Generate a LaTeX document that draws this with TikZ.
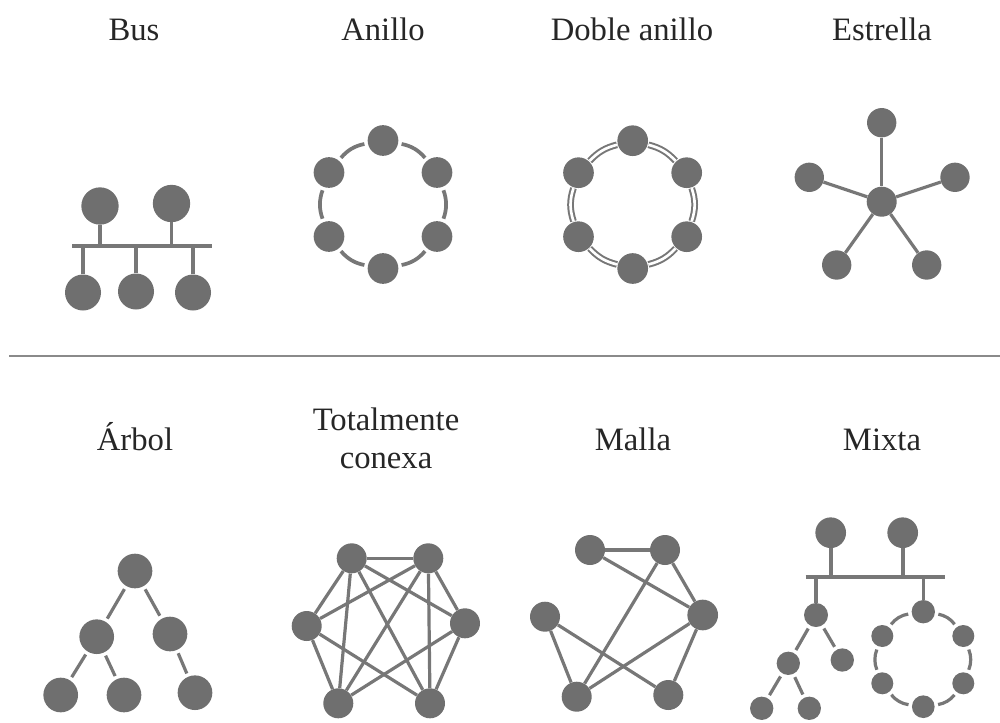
\documentclass[tikz,border=0pt]{standalone}
\usepackage{fontspec}
\setmainfont{Liberation Serif}
\definecolor{nodegray}{HTML}{6F6F6F}
\definecolor{edgegray}{HTML}{777777}
\definecolor{sepgray}{HTML}{8A8A8A}
\begin{document}
\begin{tikzpicture}[x=0.75pt,y=-0.75pt,
  nd/.style={circle,fill=nodegray,draw=none,inner sep=0pt,minimum size=#1},
  title/.style={anchor=base,text=black!85,inner sep=0pt,font=\fontsize{24.5}{29}\selectfont},
  wire/.style={draw=edgegray,line width=2.4pt},
  buswire/.style={draw=edgegray,line width=2.7pt},
  gapwire/.style={wire,shorten >=2.5pt,shorten <=2.5pt},
  ringwire/.style={draw=edgegray,line width=2.8pt,shorten >=2.5pt,shorten <=2.5pt},
  dblwire/.style={draw=edgegray,double=white,line width=1.5pt,double distance=2pt,shorten >=0.5pt,shorten <=0.5pt},
  sep/.style={draw=sepgray,line width=1.6pt}
]
\path[use as bounding box] (0,0) rectangle (1000,722);

% ---------- titles ----------
\node[title] (tBus) at (134,40) {Bus};
\node[title] (tAni) at (383,40) {Anillo};
\node[title] (tDob) at (632,40) {Doble anillo};
\node[title] (tEst) at (882,40) {Estrella};
\node[title] (tArb) at (135,450) {Árbol};
\node[title] (tTc1) at (386,430) {Totalmente};
\node[title] (tTc2) at (386,468) {conexa};
\node[title] (tMal) at (633,450) {Malla};
\node[title] (tMix) at (882,450) {Mixta};

% ---------- separator ----------
\coordinate (sepL) at (9,356);
\coordinate (sepR) at (1000,356);
\draw[sep] (sepL) -- (sepR);

% ---------- Bus ----------
\coordinate (busL) at (72,246);
\coordinate (busR) at (212,246);
\node[nd=28pt] (bt1) at (100,206) {};
\node[nd=28pt] (bt2) at (171.5,203.5) {};
\node[nd=27pt] (bb1) at (83,292.5) {};
\node[nd=27pt] (bb2) at (136,291.5) {};
\node[nd=27pt] (bb3) at (193,292.5) {};
\draw[buswire] (busL) -- (busR);
\draw[buswire] (bt1) -- (bt1 |- busL);
\draw[buswire] (bt2) -- (bt2 |- busL);
\draw[buswire] (bb1) -- (bb1 |- busL);
\draw[buswire] (bb2) -- (bb2 |- busL);
\draw[buswire] (bb3) -- (bb3 |- busL);

% ---------- Anillo ----------
\node[nd=23pt] (a1) at (383,140.5) {};
\node[nd=23pt] (a2) at (437,172.5) {};
\node[nd=23pt] (a3) at (437,236.5) {};
\node[nd=23pt] (a4) at (383,268.5) {};
\node[nd=23pt] (a5) at (329,236.5) {};
\node[nd=23pt] (a6) at (329,172.5) {};
\draw[ringwire] (a1) to[bend left=20] (a2);
\draw[ringwire] (a2) to[bend left=20] (a3);
\draw[ringwire] (a3) to[bend left=20] (a4);
\draw[ringwire] (a4) to[bend left=20] (a5);
\draw[ringwire] (a5) to[bend left=20] (a6);
\draw[ringwire] (a6) to[bend left=20] (a1);

% ---------- Doble anillo ----------
\node[nd=23pt] (d1) at (632.7,140.7) {};
\node[nd=23pt] (d2) at (686.7,172.7) {};
\node[nd=23pt] (d3) at (686.7,236.7) {};
\node[nd=23pt] (d4) at (632.7,268.5) {};
\node[nd=23pt] (d5) at (578.5,236.7) {};
\node[nd=23pt] (d6) at (578.5,172.7) {};
\draw[dblwire] (d1) to[bend left=16] (d2);
\draw[dblwire] (d2) to[bend left=18] (d3);
\draw[dblwire] (d3) to[bend left=16] (d4);
\draw[dblwire] (d4) to[bend left=16] (d5);
\draw[dblwire] (d5) to[bend left=18] (d6);
\draw[dblwire] (d6) to[bend left=16] (d1);

% ---------- Estrella ----------
\node[nd=22.5pt] (s0) at (881.7,201.7) {};
\node[nd=22pt] (s1) at (881.7,122.7) {};
\node[nd=22pt] (s2) at (809.3,177.3) {};
\node[nd=22pt] (s3) at (955,177.3) {};
\node[nd=22pt] (s4) at (836.7,265) {};
\node[nd=22pt] (s5) at (926.7,265) {};
\draw[wire] (s0) -- (s1);
\draw[wire] (s0) -- (s2);
\draw[wire] (s0) -- (s3);
\draw[wire] (s0) -- (s4);
\draw[wire] (s0) -- (s5);

% ---------- Arbol ----------
\node[nd=26pt] (r0) at (135,571) {};
\node[nd=26pt] (r1) at (96.7,636.7) {};
\node[nd=26pt] (r2) at (170,634) {};
\node[nd=26pt] (r3) at (60.7,695) {};
\node[nd=26pt] (r4) at (124,695) {};
\node[nd=26pt] (r5) at (195,692.7) {};
\draw[gapwire] (r0) -- (r1);
\draw[gapwire] (r0) -- (r2);
\draw[gapwire] (r1) -- (r3);
\draw[gapwire] (r1) -- (r4);
\draw[gapwire] (r2) -- (r5);

% ---------- Totalmente conexa ----------
\node[nd=22.5pt] (c1) at (351.7,558.3) {};
\node[nd=22.5pt] (c2) at (428.3,558.3) {};
\node[nd=22.5pt] (c3) at (306.7,626) {};
\node[nd=22.5pt] (c4) at (465,623.3) {};
\node[nd=22.5pt] (c5) at (338.3,703.3) {};
\node[nd=22.5pt] (c6) at (430,703.3) {};
\foreach \u/\v in {c1/c2,c1/c3,c1/c4,c1/c5,c1/c6,c2/c3,c2/c4,c2/c5,c2/c6,c3/c5,c3/c6,c4/c5,c4/c6}
  \draw[wire] (\u) -- (\v);

% ---------- Malla ----------
\node[nd=22.5pt] (m1) at (590,550) {};
\node[nd=22.5pt] (m2) at (665,550) {};
\node[nd=22.5pt] (m3) at (545,616.7) {};
\node[nd=23pt] (m4) at (702.7,615) {};
\node[nd=22.5pt] (m5) at (576.7,696.7) {};
\node[nd=22.5pt] (m6) at (668.3,695) {};
\foreach \u/\v in {m1/m2,m1/m4,m2/m4,m2/m5,m3/m5,m3/m6,m4/m5,m4/m6}
  \draw[wire] (\u) -- (\v);

% ---------- Mixta ----------
\coordinate (xbusL) at (805.7,576.7);
\coordinate (xbusR) at (945,576.7);
\node[nd=23pt] (xt1) at (830.7,532.7) {};
\node[nd=23pt] (xt2) at (902.7,532.7) {};
\node[nd=18pt] (xr0) at (816,615) {};
\node[nd=17.5pt] (xr1) at (788.3,663.3) {};
\node[nd=17.5pt] (xr2) at (842.3,660) {};
\node[nd=17.5pt] (xr3) at (761.7,708.3) {};
\node[nd=17.5pt] (xr4) at (809.3,708.3) {};
\node[nd=17.5pt] (xa1) at (923.3,611.7) {};
\node[nd=16.5pt] (xa2) at (963.3,636) {};
\node[nd=16.5pt] (xa3) at (963.3,683.3) {};
\node[nd=17pt] (xa4) at (923.3,706.7) {};
\node[nd=16.5pt] (xa5) at (882.3,683.3) {};
\node[nd=16.5pt] (xa6) at (882.3,636) {};
\draw[buswire] (xbusL) -- (xbusR);
\draw[buswire] (xt1) -- (xt1 |- xbusL);
\draw[buswire] (xt2) -- (xt2 |- xbusL);
\draw[wire] (xr0) -- (xr0 |- xbusL);
\draw[wire] (xa1) -- (xa1 |- xbusL);
\draw[gapwire] (xr0) -- (xr1);
\draw[gapwire] (xr0) -- (xr2);
\draw[gapwire] (xr1) -- (xr3);
\draw[gapwire] (xr1) -- (xr4);
\draw[ringwire,line width=2.4pt] (xa1) to[bend left=22] (xa2);
\draw[ringwire,line width=2.4pt] (xa2) to[bend left=22] (xa3);
\draw[ringwire,line width=2.4pt] (xa3) to[bend left=22] (xa4);
\draw[ringwire,line width=2.4pt] (xa4) to[bend left=22] (xa5);
\draw[ringwire,line width=2.4pt] (xa5) to[bend left=22] (xa6);
\draw[ringwire,line width=2.4pt] (xa6) to[bend left=22] (xa1);
\end{tikzpicture}
\end{document}
